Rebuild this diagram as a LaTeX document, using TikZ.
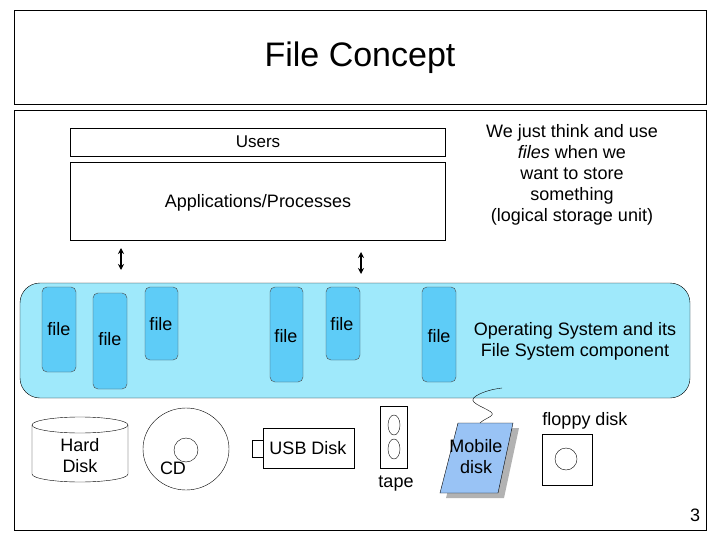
\documentclass[tikz,border=0pt]{standalone}
\usepackage{fontspec}
\setmainfont{Liberation Sans}
\usetikzlibrary{positioning,shapes.geometric,arrows.meta}
\definecolor{osblue}{HTML}{9FE9FB}
\definecolor{fileblue}{HTML}{5ECCF7}
\definecolor{mobblue}{HTML}{99C3F5}
\begin{document}
\begin{tikzpicture}[x=1pt,y=-1pt]

        % Define styles
        \tikzset{
          filebar/.style={draw=black!70, fill=fileblue, rounded corners=5pt},
          txt/.style={font=\fontsize{18}{21}\selectfont, align=center, inner sep=0pt},
          dev/.style={draw, thin},
          updown/.style={{Stealth[length=6pt,width=6pt]}-{Stealth[length=6pt,width=6pt]}, line width=1.4pt}
        }
        \useasboundingbox (0,0) rectangle (720,540);

        % Frames
        \draw (14,10) rectangle (706,104);
        \node[font=\fontsize{34}{40}\selectfont] (title) at (360,58) {File Concept};
        \draw (14,110) rectangle (706,530);
        \node[txt] (page) at (695,515) {3};

        % Users and applications
        \draw (70,128) rectangle (445,156);
        \node[txt, font=\fontsize{17}{20}\selectfont] (users) at (258,142) {Users};
        \draw (70,162) rectangle (445,240);
        \node[txt] (apps) at (258,203) {Applications/Processes};
        \node[txt] (note) at (572,175) {We just think and use\\\textit{files} when we\\want to store\\something\\(logical storage unit)};

        \coordinate (a1) at (121,248); \coordinate (b1) at (121,270);
        \coordinate (a2) at (361,252); \coordinate (b2) at (361,274);
        \draw[updown] (a1) -- (b1);
        \draw[updown] (a2) -- (b2);

        % Operating system
        \draw[fill=osblue, rounded corners=20pt] (20,283) rectangle (690,398);
        \draw[filebar] (42,287) rectangle (76,372);
        \draw[filebar] (93,293) rectangle (127,389);
        \draw[filebar] (145,287) rectangle (178,360);
        \draw[filebar] (270,287) rectangle (303,382);
        \draw[filebar] (326,287) rectangle (360,360);
        \draw[filebar] (422,287) rectangle (456,382);
        \node[txt] (f1) at (59,329) {file};
        \node[txt] (f2) at (110,339) {file};
        \node[txt] (f3) at (161,324) {file};
        \node[txt] (f4) at (286,336) {file};
        \node[txt] (f5) at (342,324) {file};
        \node[txt] (f6) at (439,336) {file};
        \node[txt] (os) at (575,341) {Operating System and its\\File System component};

        % Devices
        \draw[dev] (32,425) -- (32,474) arc[start angle=180, end angle=0, x radius=48, y radius=8] -- (128,425);
        \draw[dev] (80,425) ellipse[x radius=48, y radius=8];
        \node[txt] (hd) at (80,456) {Hard\\Disk};

        \draw[dev] (186,449) ellipse[x radius=43, y radius=41];
        \draw[dev] (186,450) circle[radius=12];
        \node[txt] (cd) at (173,468) {CD};

        \draw[dev] (252,440) rectangle (263,457);
        \draw[dev] (263,428) rectangle (354,468);
        \node[txt] (usb) at (308,448) {USB Disk};

        \draw[dev] (380,406) rectangle (407,468);
        \draw[dev] (394,425) ellipse[x radius=6, y radius=10];
        \draw[dev] (394,449) ellipse[x radius=6, y radius=10];
        \node[txt] (tape) at (396,484) {tape};

        \fill[black!30] (464,428) -- (519,428) -- (504,498) -- (446,498) -- cycle;
        \draw[fill=mobblue] (458,423) -- (513,423) -- (498,493) -- (440,493) -- cycle;
        \node[txt] (mob) at (476,457) {Mobile\\disk};
        \draw[dev] (480,423) .. controls (485,418) and (496,416) .. (491,412) .. controls (482,406) and (466,402) .. (476,396) .. controls (484,391) and (494,389) .. (502,388);

        \node[txt] (floppy) at (585,421) {floppy disk};
        \draw[dev] (542,434) rectangle (592,485);
        \draw[dev] (566,459) circle[radius=11];

\end{tikzpicture}
\end{document}
